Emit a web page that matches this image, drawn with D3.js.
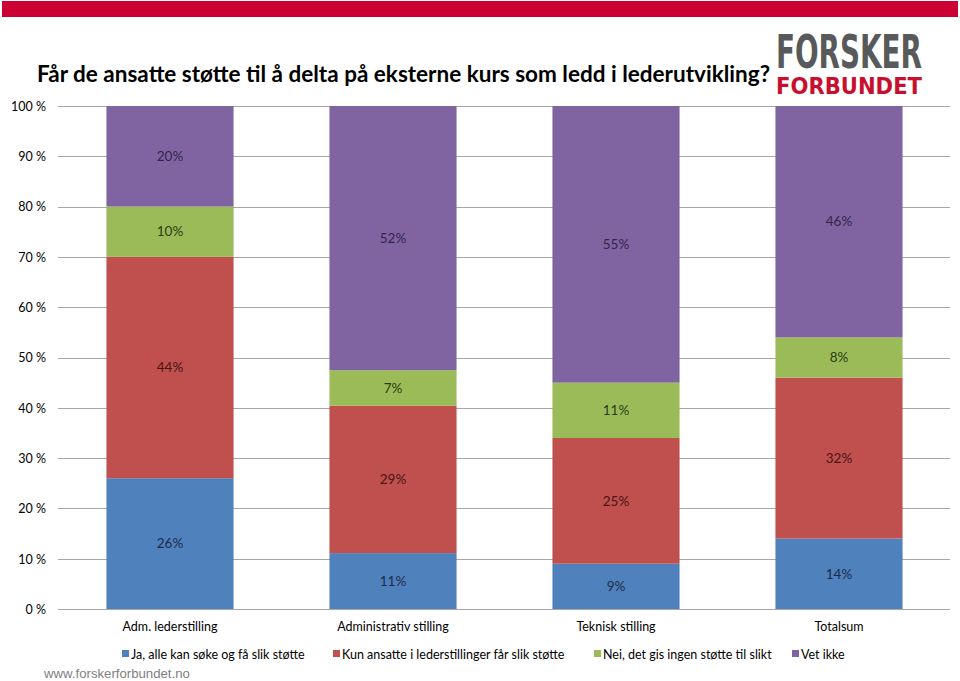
<!DOCTYPE html>
<html><head><meta charset="utf-8">
<script src="https://cdn.jsdelivr.net/npm/d3@7"></script>
<style>body{margin:0;background:#fff}svg{display:block}</style>
</head><body>
<script>
const categories = ["Adm. lederstilling","Administrativ stilling","Teknisk stilling","Totalsum"];
const seriesNames = ["Ja, alle kan søke og få slik støtte","Kun ansatte i lederstillinger får slik støtte","Nei, det gis ingen støtte til slikt","Vet ikke"];
const jaValues = [26, 11, 9, 14];
const kunLederValues = [44, 29, 25, 32];
const neiValues = [10, 7, 11, 8];
const vetIkkeValues = [20, 52, 55, 46];
const yTicks = [0,0.1,0.2,0.3,0.4,0.5,0.6,0.7,0.8,0.9,1];
const colors = ["#4F81BD","#C0504D","#9BBB59","#8064A2"];
const labelColors = ["#1c2b4a","#4a1515","#2c3b12","#33254a"];

const W=960,H=681;
const svg=d3.select("body").append("svg").attr("width",W).attr("height",H);
const cal="Lato, 'Open Sans', sans-serif";

svg.append("rect").attr("x",2).attr("y",1).attr("width",956).attr("height",16).attr("fill","#CC0033");

svg.append("text").attr("x",37).attr("y",82).attr("font-family",cal).attr("font-weight","bold")
  .attr("font-size",22).attr("fill","#000").attr("textLength",733).attr("lengthAdjust","spacingAndGlyphs")
  .text("Får de ansatte støtte til å delta på eksterne kurs som ledd i lederutvikling?");

svg.append("text").attr("x",776).attr("y",68).attr("font-family","'DejaVu Sans Condensed','DejaVu Sans',sans-serif")
  .attr("font-weight","bold").attr("font-size",46).attr("fill","#58595b").attr("textLength",146)
  .attr("lengthAdjust","spacingAndGlyphs").text("FORSKER");
svg.append("text").attr("x",776).attr("y",94).attr("font-family","'DejaVu Sans','Liberation Sans',sans-serif")
  .attr("font-weight","bold").attr("font-size",23).attr("fill","#c8102e").attr("textLength",146)
  .attr("lengthAdjust","spacingAndGlyphs").text("FORBUNDET");

const x=d3.scaleBand().domain(categories).range([58.5,950.5]).paddingInner(0.43).paddingOuter(0.215);
const y=d3.scaleLinear().domain([0,1]).range([609,106]);

const rows=categories.map((c,i)=>({cat:c,s0:jaValues[i],s1:kunLederValues[i],s2:neiValues[i],s3:vetIkkeValues[i]}));
const stack=d3.stack().keys(["s0","s1","s2","s3"]).offset(d3.stackOffsetExpand);
const layers=stack(rows);

// gridlines
svg.append("g").selectAll("line").data(yTicks).join("line")
  .attr("x1",58).attr("x2",950).attr("y1",d=>Math.round(y(d))+0.5).attr("y2",d=>Math.round(y(d))+0.5)
  .attr("stroke","#a6a6a6").attr("stroke-width",1.2);

const yAxis=d3.axisLeft(y).tickValues(yTicks).tickFormat(d=>Math.round(d*100)+" %").tickSize(0).tickPadding(0);
const ya=svg.append("g").attr("transform","translate(46,0)").call(yAxis);
ya.select(".domain").remove();
ya.selectAll("text").attr("font-family",cal).attr("font-size",12.5).attr("fill","#000").attr("dy","0.35em");

layers.forEach((L,k)=>{
  const g=svg.append("g");
  g.selectAll("rect").data(L).join("rect")
    .attr("x",d=>x(d.data.cat)).attr("width",x.bandwidth())
    .attr("y",d=>y(d[1])).attr("height",d=>y(d[0])-y(d[1]))
    .attr("fill",colors[k]);
  g.selectAll("text").data(L).join("text")
    .attr("x",d=>x(d.data.cat)+x.bandwidth()/2).attr("y",d=>(y(d[0])+y(d[1]))/2)
    .attr("dy","0.35em").attr("text-anchor","middle").attr("font-family",cal).attr("font-size",13.5)
    .attr("fill",labelColors[k]).text(d=>d.data[L.key]+"%");
});

const xAxis=d3.axisBottom(x).tickSize(0).tickPadding(0);
const xa=svg.append("g").attr("transform","translate(0,631)").call(xAxis);
xa.select(".domain").remove();
xa.selectAll("text").attr("font-family",cal).attr("font-size",12.5).attr("fill","#000").attr("dy","0");

const legX=[122,333,594,792];
const leg=svg.append("g");
seriesNames.forEach((n,i)=>{
  leg.append("rect").attr("x",legX[i]).attr("y",650).attr("width",7).attr("height",7).attr("fill",colors[i]);
  leg.append("text").attr("x",legX[i]+9).attr("y",658.5).attr("font-family",cal).attr("font-size",12.5)
    .attr("fill","#000").text(n);
});

svg.append("text").attr("x",44).attr("y",678).attr("font-family","'Liberation Sans',Arial,sans-serif")
  .attr("font-size",13.2).attr("fill","#7f7f7f").text("www.forskerforbundet.no");
</script>
</body></html>
